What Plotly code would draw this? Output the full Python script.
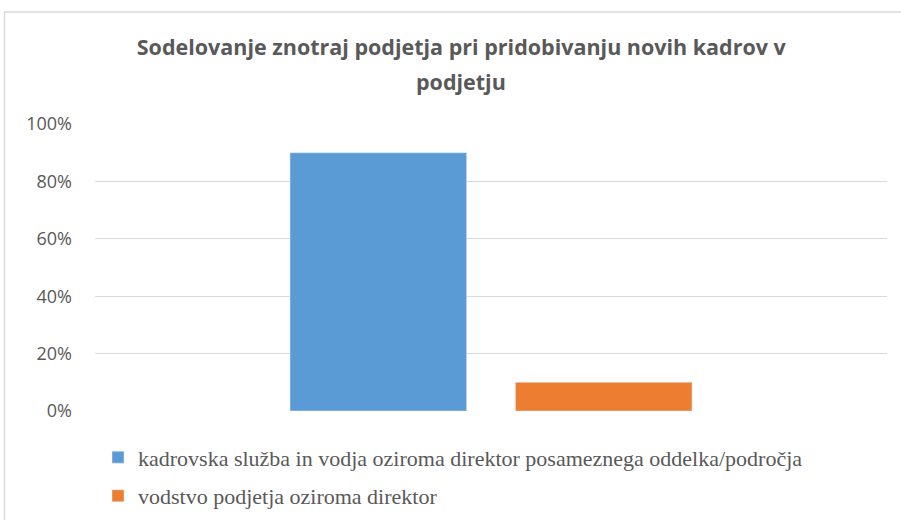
import plotly.graph_objects as go

title_line1 = "Sodelovanje znotraj podjetja pri pridobivanju novih kadrov v"
title_line2 = "podjetju"
series_names = [
    "kadrovska služba in vodja oziroma direktor posameznega oddelka/področja",
    "vodstvo podjetja oziroma direktor",
]
series_values = [0.90, 0.10]
series_colors = ["#5B9BD5", "#ED7D31"]
y_ticks = [0, 0.2, 0.4, 0.6, 0.8, 1.0]
y_tick_labels = ["0%", "20%", "40%", "60%", "80%", "100%"]

bar_width = 0.223
bar_offsets = [-0.2538, 0.2538 - bar_width]

fig = go.Figure()
for i, (name, val, col) in enumerate(zip(series_names, series_values, series_colors)):
    fig.add_trace(go.Bar(
        x=[""], y=[val], name=name, marker_color=col,
        width=bar_width, offset=bar_offsets[i],
        legendgroup=f"g{i}", hoverinfo="skip",
    ))

W, H = 901, 520
ml, mr, mt, mb = 95, 14, 123.5, 108.5
pw = W - ml - mr
ph = H - mt - mb
title_font = dict(family="Open Sans", size=21.5, color="#595959", weight="bold")
fig.update_layout(
    width=W, height=H,
    margin=dict(l=ml, r=mr, t=mt, b=mb, pad=0, autoexpand=False),
    paper_bgcolor="white", plot_bgcolor="white",
    barmode="overlay",
    title=dict(text=title_line1, x=0.512, xanchor="center", y=1 - 47 / H, yanchor="middle",
               font=title_font),
    xaxis=dict(range=[-0.5, 0.5], showticklabels=False, showgrid=False, zeroline=False,
               showline=False, ticks=""),
    yaxis=dict(range=[0, 1], tickvals=y_ticks, ticktext=y_tick_labels,
               showgrid=True, gridcolor="#D9D9D9", gridwidth=1, zeroline=False,
               showline=False, ticks="", ticklabelstandoff=22,
               tickfont=dict(family="Open Sans", size=18, color="#595959")),
    legend=dict(orientation="v", x=(98 - ml) / pw, xanchor="left",
                y=-(437 - (H - mb)) / ph, yanchor="top",
                font=dict(family="Liberation Serif, Times New Roman, serif",
                          size=22, color="#595959"),
                tracegroupgap=7, bgcolor="rgba(0,0,0,0)", itemwidth=30),
    showlegend=True,
)
# second title line (Excel-style wider line spacing)
fig.add_annotation(text=title_line2, xref="paper", yref="paper",
                   x=(W * 0.512 - ml) / pw, xanchor="center",
                   y=(H - mb - 81) / ph, yanchor="middle",
                   showarrow=False, font=title_font)
# outer chart frame (left and top edges visible in the crop)
fig.add_shape(type="rect", xref="paper", yref="paper",
              x0=(4.5 - ml) / pw, x1=(W + 20 - ml) / pw,
              y0=-(H + 20 - (H - mb)) / ph, y1=(H - mb - 11) / ph,
              line=dict(color="#D9D9D9", width=1.5), fillcolor="rgba(0,0,0,0)", layer="below")

fig.write_html("out.html")
